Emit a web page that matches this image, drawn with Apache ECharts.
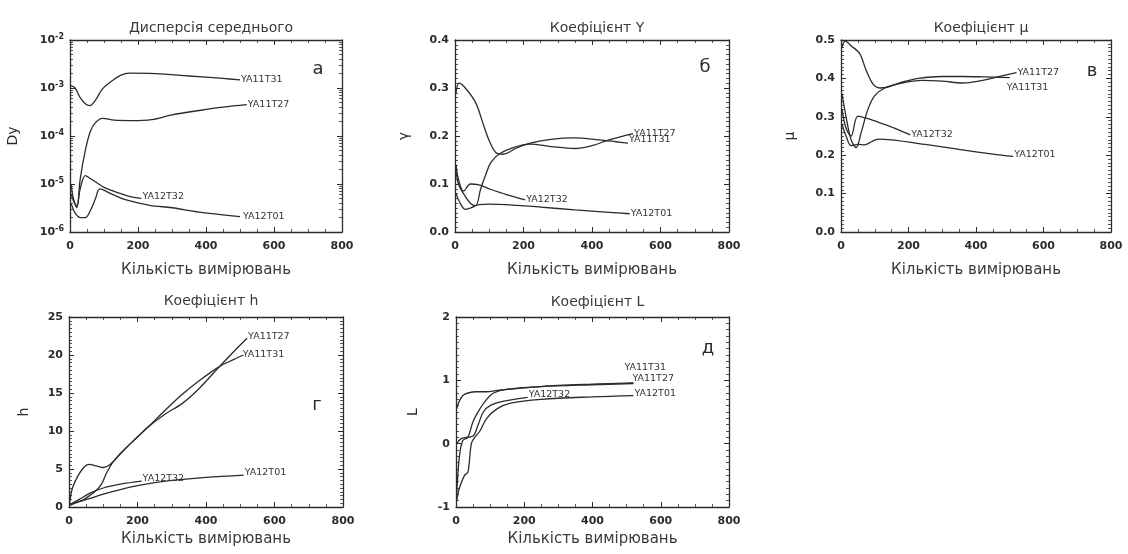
<!DOCTYPE html>
<html><head><meta charset="utf-8">
<script src="https://cdn.jsdelivr.net/npm/echarts@6/dist/echarts.min.js"></script>
<style>html,body{margin:0;padding:0;background:#fff}#c{width:1128px;height:554px}</style>
</head><body><div id="c"></div>
<script>
// ---- data: [count, value] pairs ----
const seriesNames = ['YA11T31', 'YA11T27', 'YA12T32', 'YA12T01'];
const xTicks = [0, 200, 400, 600, 800];
const titles = ['Дисперсія середнього', 'Коефіцієнт Y', 'Коефіцієнт μ', 'Коефіцієнт h', 'Коефіцієнт L'];
const yNames = ['Dy', 'γ', 'μ', 'h', 'L'];
const panelLetters = ['а', 'б', 'в', 'г', 'д'];
const xName = 'Кількість вимірювань';

// panel а: Dispersion of mean (log)
const a_T31 = [[3,1.12e-3],[15,1.0e-3],[30,6.3e-4],[45,4.7e-4],[58,4.3e-4],[75,5.6e-4],[95,9.5e-4],[120,1.35e-3],[150,1.86e-3],[175,2.04e-3],[250,2.0e-3],[350,1.78e-3],[450,1.58e-3],[500,1.48e-3]];
const a_T27 = [[3,1e-5],[10,5e-6],[20,3.2e-6],[30,1.26e-5],[45,5e-5],[60,1.26e-4],[75,1.9e-4],[95,2.34e-4],[130,2.14e-4],[180,2.1e-4],[240,2.2e-4],[300,2.75e-4],[380,3.4e-4],[450,4e-4],[520,4.5e-4]];
const a_T32 = [[3,6.3e-6],[10,4.5e-6],[20,3.5e-6],[30,7.9e-6],[45,1.5e-5],[60,1.3e-5],[80,1.05e-5],[100,8.5e-6],[140,6.6e-6],[180,5.4e-6],[210,5e-6]];
const a_T01 = [[3,4e-6],[15,2.5e-6],[30,2e-6],[45,2e-6],[60,2.8e-6],[75,5e-6],[88,7.9e-6],[120,6.3e-6],[160,4.8e-6],[235,3.6e-6],[300,3.2e-6],[380,2.6e-6],[500,2.1e-6]];

// panel б: gamma
const b_T31 = [[3,0.29],[12,0.31],[30,0.30],[60,0.27],[80,0.23],[100,0.19],[120,0.165],[140,0.162],[180,0.175],[220,0.185],[280,0.193],[350,0.196],[420,0.192],[470,0.188],[505,0.185]];
const b_T27 = [[3,0.13],[10,0.10],[25,0.08],[45,0.06],[60,0.055],[75,0.09],[90,0.12],[105,0.145],[130,0.163],[170,0.176],[220,0.183],[280,0.178],[350,0.174],[400,0.18],[450,0.192],[520,0.205]];
const b_T32 = [[3,0.14],[10,0.11],[25,0.085],[45,0.1],[70,0.098],[100,0.09],[150,0.078],[205,0.067]];
const b_T01 = [[3,0.08],[15,0.06],[30,0.047],[45,0.05],[70,0.057],[100,0.058],[150,0.057],[250,0.052],[350,0.046],[450,0.041],[510,0.038]];

// panel в: mu
const c_T31 = [[3,0.48],[12,0.497],[30,0.485],[55,0.465],[75,0.42],[95,0.385],[115,0.375],[140,0.378],[180,0.39],[230,0.4],[300,0.405],[360,0.405],[420,0.404],[500,0.402]];
const c_T27 = [[3,0.36],[15,0.3],[30,0.24],[45,0.22],[60,0.26],[80,0.32],[100,0.355],[130,0.375],[180,0.388],[240,0.395],[300,0.393],[360,0.388],[420,0.395],[470,0.405],[520,0.415]];
const c_T32 = [[3,0.32],[15,0.27],[30,0.25],[50,0.302],[80,0.295],[120,0.283],[160,0.27],[205,0.253]];
const c_T01 = [[3,0.28],[15,0.25],[30,0.225],[50,0.228],[70,0.227],[90,0.235],[110,0.242],[150,0.24],[250,0.228],[350,0.215],[450,0.203],[510,0.197]];

// panel г: h
const d_T31 = [[2,0.5],[10,2.5],[25,4.0],[45,5.3],[60,5.6],[80,5.4],[100,5.2],[120,5.6],[150,7.0],[190,8.8],[230,10.5],[280,12.7],[330,14.8],[380,16.6],[440,18.5],[480,19.4],[510,20.0]];
const d_T27 = [[2,0.3],[20,0.6],[40,0.9],[60,1.5],[80,2.2],[95,3.0],[110,4.5],[130,6.0],[160,7.5],[200,9.2],[230,10.5],[280,12.2],[330,13.6],[380,15.6],[440,18.5],[480,20.4],[520,22.2]];
const d_T32 = [[2,0.3],[30,1.0],[60,1.8],[100,2.5],[150,3.0],[212,3.4]];
const d_T01 = [[2,0.2],[30,0.7],[60,1.1],[100,1.7],[150,2.3],[200,2.8],[250,3.2],[300,3.5],[400,3.9],[510,4.2]];

// panel д: L
const e_T31 = [[2,0.55],[8,0.65],[20,0.76],[35,0.8],[60,0.82],[90,0.82],[120,0.84],[200,0.88],[300,0.92],[400,0.94],[520,0.96]];
const e_T27 = [[2,-0.8],[10,-0.2],[20,0.05],[35,0.1],[50,0.35],[70,0.55],[90,0.7],[110,0.8],[150,0.86],[250,0.9],[400,0.93],[520,0.95]];
const e_T32 = [[2,0.0],[15,0.08],[30,0.1],[50,0.12],[65,0.3],[80,0.5],[100,0.6],[140,0.67],[210,0.73]];
const e_T01 = [[2,-0.9],[10,-0.7],[25,-0.5],[35,-0.45],[45,0.0],[55,0.1],[70,0.2],[90,0.4],[120,0.55],[160,0.64],[250,0.7],[400,0.74],[520,0.76]];

// ---- layout ----
const INK = '#2b2b2b';
const FONT = 'DejaVu Sans';
const grids = [
  {left:70, top:40, width:272, height:192},
  {left:455, top:40, width:274, height:192},
  {left:841, top:40, width:270, height:192},
  {left:69, top:317, width:274, height:190},
  {left:456, top:317, width:273, height:190}
];
const yCfg = [
  {type:'log', min:1e-6, max:1e-2, logBase:10, gap:50,
   fmt: v => '{b|10}{s|' + Math.round(Math.log10(v)) + '}'},
  {type:'value', min:0, max:0.4, interval:0.1, gap:44, fmt: v => v.toFixed(1)},
  {type:'value', min:0, max:0.5, interval:0.1, gap:44, fmt: v => v.toFixed(1)},
  {type:'value', min:0, max:25, interval:5, gap:38, fmt: v => String(v)},
  {type:'value', min:-1, max:2, interval:1, gap:36, fmt: v => String(v)}
];
const panelData = [
  [a_T31, a_T27, a_T32, a_T01],
  [b_T31, b_T27, b_T32, b_T01],
  [c_T31, c_T27, c_T32, c_T01],
  [d_T31, d_T27, d_T32, d_T01],
  [e_T31, e_T27, e_T32, e_T01]
];
// label offsets relative to the series end (style only)
const labelOffsets = [
  [[0,0],[0,0],[0,-2],[2,0]],
  [[0,-4],[0,0],[0,0],[0,0]],
  [[-4,10],[0,0],[0,0],[0,-2]],
  [[-2,0],[0,-2],[0,-3],[0,-3]],
  [[-10,-15],[-2,-5],[0,-3],[0,-2]]
];
const letterPos = [[313,66],[700,64],[1087,68],[312,402],[703,345]];
const titleY = [25,25,25,298,299];

const option = {
  animation:false,
  backgroundColor:'#fff',
  textStyle:{fontFamily:FONT, color:INK},
  title:[], grid:[], xAxis:[], yAxis:[], series:[]
};

grids.forEach((g, i) => {
  option.grid.push(Object.assign({containLabel:false, show:false}, g));
  option.title.push({text:titles[i], left:g.left + g.width/2, top:titleY[i]-9, textAlign:'center',
    textStyle:{fontSize:14, fontWeight:'normal', color:'#3a3a3a', fontFamily:FONT}});
  option.title.push({text:panelLetters[i], left:letterPos[i][0], top:letterPos[i][1]-11, textAlign:'center',
    textStyle:{fontSize:18, fontWeight:'normal', color:INK, fontFamily:FONT}});
  const axisLine = {show:true, onZero:false, lineStyle:{color:INK, width:1.3}};
  const tick = {show:true, inside:true, length:5, lineStyle:{color:INK, width:1}};
  const minor = {show:true, splitNumber: i === 0 ? 9 : 10, length:3, lineStyle:{color:INK, width:0.8}};
  const xMinor = {show:true, splitNumber:4, length:3, lineStyle:{color:INK, width:0.8}};
  const xBase = {type:'value', gridIndex:i, min:xTicks[0], max:xTicks[xTicks.length-1], interval:200,
    axisLine, axisTick:tick, minorTick:xMinor, splitLine:{show:false}};
  option.xAxis.push(Object.assign({}, xBase, {position:'bottom', name:xName, nameLocation:'middle',
    nameGap: i < 3 ? 31 : 25,
    nameTextStyle:{fontSize:15, color:'#3a3a3a', fontFamily:FONT},
    axisLabel:{show:true, fontSize:11, fontWeight:'bold', color:INK, margin:9, fontFamily:FONT}}));
  option.xAxis.push(Object.assign({}, xBase, {position:'top', axisLabel:{show:false}}));
  const yc = yCfg[i];
  const yBase = {type:yc.type, gridIndex:i, min:yc.min, max:yc.max, axisLine, axisTick:tick,
    minorTick:minor, splitLine:{show:false}};
  if (yc.type === 'log') yBase.logBase = yc.logBase; else yBase.interval = yc.interval;
  option.yAxis.push(Object.assign({}, yBase, {position:'left', name:yNames[i], nameLocation:'middle',
    nameGap:yc.gap, nameRotate:90,
    nameTextStyle:{fontSize:14, color:INK, fontFamily:FONT},
    axisLabel:{show:true, fontSize:11, fontWeight:'bold', color:INK, margin:6, fontFamily:FONT,
      formatter: yc.fmt,
      rich:{b:{fontSize:11, fontWeight:'bold', color:INK}, s:{fontSize:8, fontWeight:'bold', color:INK, verticalAlign:'bottom', padding:[0,0,7,0]}}}}));
  option.yAxis.push(Object.assign({}, yBase, {position:'right', axisLabel:{show:false}}));
  panelData[i].forEach((d, k) => {
    option.series.push({
      type:'line', name:seriesNames[k], xAxisIndex:2*i, yAxisIndex:2*i, data:d,
      showSymbol:false, smooth:0.35, lineStyle:{color:INK, width:1.3},
      endLabel:{show:true, formatter:seriesNames[k], fontSize:9.5, color:'#333', fontFamily:FONT,
        distance:1, offset:labelOffsets[i][k]},
      emphasis:{disabled:true}, silent:true
    });
  });
});

const chart = echarts.init(document.getElementById('c'), null, {renderer:'canvas'});
chart.setOption(option);
</script>
</body></html>
